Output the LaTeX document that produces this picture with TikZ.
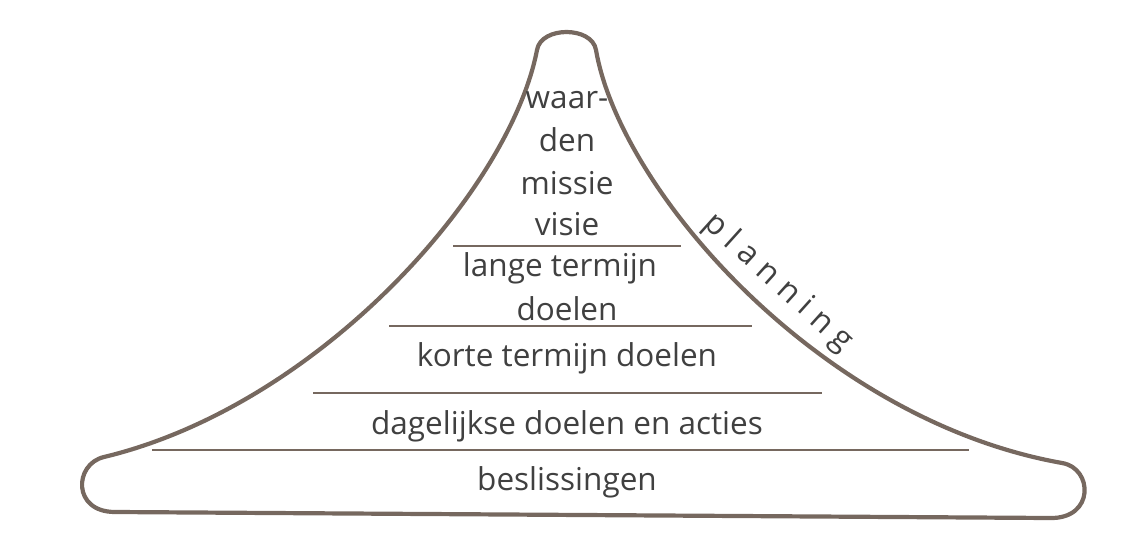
\documentclass[tikz,border=0pt]{standalone}
\usepackage{fontspec}
\setmainfont{Open Sans}
\definecolor{outl}{RGB}{118,104,95}
\definecolor{txt}{RGB}{64,64,64}
\begin{document}
\begin{tikzpicture}[x=1pt,y=-1pt,
  outline/.style={draw=outl,line width=4.2pt,line join=round,line cap=round},
  sep/.style={draw=outl,line width=1.8pt},
  lbl/.style={text=txt,font=\fontsize{31.5}{42}\selectfont,inner sep=0pt,align=center},
  plan/.style={text=txt,font=\fontsize{32}{36}\selectfont,inner sep=0pt}]
\useasboundingbox (0,0) rectangle (1129,548);
% outline
\draw[outline] (115,512) -- (1050,518)
  .. controls (1095,519) and (1093,468) .. (1062,463)
  .. controls (820,420) and (620,190) .. (596,50)
  .. controls (592,26) and (541,26) .. (537,50)
  .. controls (510,190) and (320,405) .. (104,457)
  .. controls (74,464) and (72,512) .. (115,512) -- cycle;
% separators
\draw[sep] (453,246) -- (681,246);
\draw[sep] (389,326) -- (752,326);
\draw[sep] (313,393) -- (822,393);
\draw[sep] (152,450) -- (969,450);
% labels
\node[lbl] (t1) at (567,100) {waar-};
\node[lbl] (t2) at (567,140) {den};
\node[lbl] (t3) at (567,183) {missie};
\node[lbl] (t4) at (567,224) {visie};
\node[lbl] (t5) at (560,268) {lange termijn};
\node[lbl] (t6) at (567,309) {doelen};
\node[lbl] (t7) at (567,358) {korte termijn doelen};
\node[lbl] (t8) at (567,426) {dagelijkse doelen en acties};
\node[lbl] (t9) at (567,482) {beslissingen};
\node[plan,rotate=-42] (pl) at (778,283) {p\kern8.5pt l\kern8.5pt a\kern8.5pt n\kern8.5pt n\kern8.5pt i\kern8.5pt n\kern8.5pt g};
\end{tikzpicture}
\end{document}
